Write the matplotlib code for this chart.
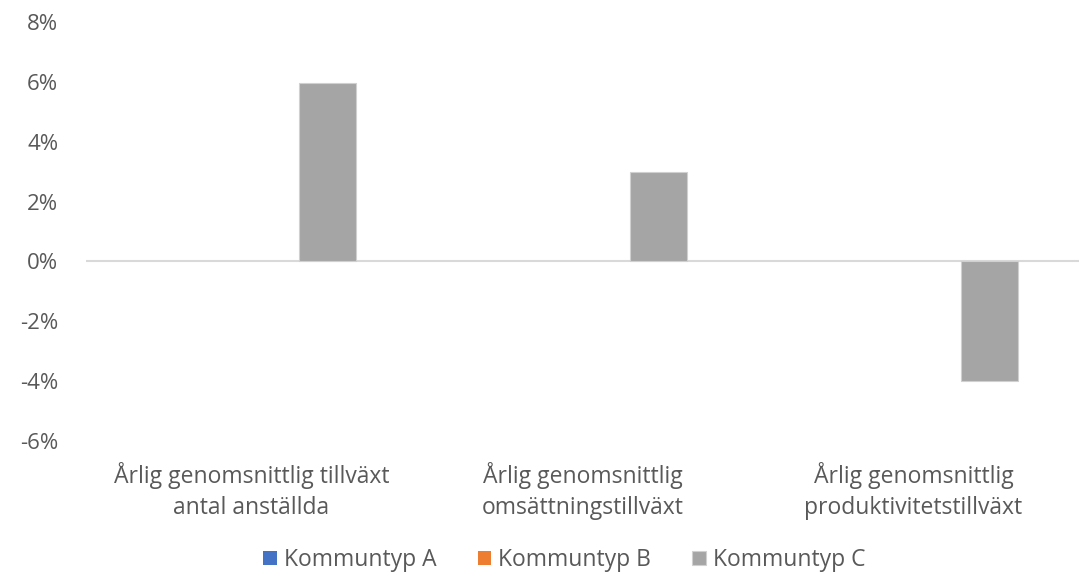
import matplotlib
matplotlib.use("Agg")
import matplotlib.pyplot as plt
import numpy as np

plt.rcParams['font.family'] = ['Open Sans', 'DejaVu Sans']

# data
categories = ["Årlig genomsnittlig tillväxt\nantal anställda",
              "Årlig genomsnittlig\nomsättningstillväxt",
              "Årlig genomsnittlig\nproduktivitetstillväxt"]
series_names = ["Kommuntyp A", "Kommuntyp B", "Kommuntyp C"]
typ_a = [0.0, 0.0, 0.0]
typ_b = [0.0, 0.0, 0.0]
typ_c = [5.95, 3.0, -4.0]
colors = ["#4472C4", "#ED7D31", "#A5A5A5"]
yticks = [-6, -4, -2, 0, 2, 4, 6, 8]

fig = plt.figure(figsize=(10.81, 5.75), dpi=100)
ax = fig.add_axes([86 / 1081, 1 - 441 / 575, 993 / 1081, 419 / 575])

x = np.arange(len(categories))
width = 0.17
step = 0.23
for i, (vals, name) in enumerate(zip([typ_a, typ_b, typ_c], series_names)):
    ax.bar(x + (i - 1) * step, vals, width, color=colors[i], label=name,
           edgecolor="#d0d0d0" if i == 2 else "none", linewidth=0.8)

ax.set_xlim(-0.5, 2.5)
ax.set_ylim(-6, 8)
ax.set_yticks(yticks)
ax.set_yticklabels([f"{t}%" for t in yticks])
ax.axhline(0, color="#d9d9d9", linewidth=1.5, zorder=0)
ax.set_xticks(x)
ax.set_xticklabels(categories, fontsize=16.5, color="#595959", linespacing=1.4)
for sp in ax.spines.values():
    sp.set_visible(False)
ax.tick_params(axis="both", length=0, colors="#595959")
ax.tick_params(axis="y", pad=20, labelsize=16)
ax.tick_params(axis="x", pad=15)

fig.legend(loc="lower center", ncol=3, frameon=False, fontsize=16.5,
           bbox_to_anchor=(0.522, -0.031), handlelength=0.6, handleheight=0.6,
           columnspacing=1.8, handletextpad=0.3, labelcolor="#595959")

fig.savefig("out.png", dpi=100)
